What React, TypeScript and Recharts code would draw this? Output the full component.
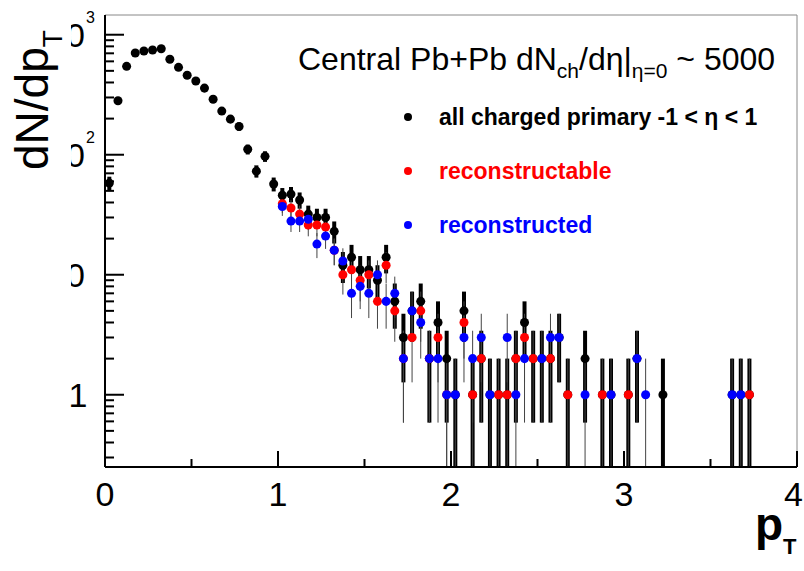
import React from "react";
import { ScatterChart, Scatter, XAxis, YAxis, ErrorBar, Legend, ReferenceArea } from "recharts";

// p_T bin centres (bins of 0.05) and counts per bin
const allPt = [
  0.025, 0.075, 0.125, 0.175, 0.225, 0.275, 0.325, 0.375, 0.425, 0.475,
  0.525, 0.575, 0.625, 0.675, 0.725, 0.775, 0.825, 0.875, 0.925, 0.975,
  1.025, 1.075, 1.125, 1.175, 1.225, 1.275, 1.325, 1.375, 1.425, 1.475,
  1.525, 1.575, 1.625, 1.675, 1.725, 1.775, 1.825, 1.875, 1.925, 1.975,
  2.025, 2.075, 2.125, 2.175, 2.225, 2.275, 2.325, 2.375, 2.425, 2.475,
  2.525, 2.575, 2.625, 2.675, 2.775, 2.875, 2.925, 3.025, 3.075, 3.225,
  3.625, 3.675, 3.725,
];
const allN = [
  58, 282, 545, 704, 731, 746, 764, 624, 535, 459,
  411, 359, 290, 231, 198, 172, 111, 73, 97, 57,
  46, 47, 42, 32, 30, 30, 23, 12, 14, 11,
  11, 9, 14, 6, 3, 5, 6, 2, 4, 2,
  1, 5, 1, 2, 1, 1, 1, 2, 4, 2,
  2, 2, 3, 1, 2, 1, 1, 1, 2, 1,
  1, 1, 1,
];

const recoablePt = [
  1.025, 1.075, 1.125, 1.175, 1.225, 1.275, 1.325, 1.375, 1.425, 1.475,
  1.525, 1.575, 1.625, 1.675, 1.725, 1.775, 1.825, 1.875, 1.925, 1.975,
  2.075, 2.125, 2.175, 2.275, 2.325, 2.375, 2.425, 2.475, 2.575, 2.675,
  2.875, 3.025, 3.725,
];
const recoableN = [
  39, 36, 32, 26, 26, 25, 16, 10, 11, 9,
  10, 6, 12, 5, 2, 3, 5, 2, 3, 1,
  4, 1, 2, 1, 1, 2, 3, 2, 2, 1,
  1, 1, 1,
];

const recoPt = [
  1.025, 1.075, 1.125, 1.175, 1.225, 1.275, 1.325, 1.375, 1.425, 1.475,
  1.525, 1.575, 1.625, 1.675, 1.725, 1.775, 1.825, 1.875, 1.925, 1.975,
  2.025, 2.075, 2.125, 2.175, 2.225, 2.325, 2.375, 2.425, 2.525, 2.575,
  2.625, 2.775, 2.925, 3.075, 3.125, 3.625, 3.675,
];
const recoN = [
  37, 28, 28, 29, 18, 21, 16, 13, 7, 8,
  7, 10, 6, 7, 2, 5, 4, 2, 2, 1,
  1, 3, 2, 3, 1, 3, 1, 2, 2, 3,
  3, 1, 1, 2, 1, 1, 1,
];

const X_TICKS = [0, 0.5, 1, 1.5, 2, 2.5, 3, 3.5, 4];
const Y_TICKS = [
  0.3, 0.4, 0.5, 0.6, 0.7, 0.8, 0.9,
  1, 2, 3, 4, 5, 6, 7, 8, 9,
  10, 20, 30, 40, 50, 60, 70, 80, 90,
  100, 200, 300, 400, 500, 600, 700, 800, 900,
  1000,
];
const Y_DECADES = [1, 10, 100, 1000];
const Y_EXP: Record<number, string> = { 100: "2", 1000: "3" };

const Y_MIN = 0.25;
const Y_MAX = 1460;
const FONT = '"Liberation Sans", Arial, Helvetica, sans-serif';

// poisson errors, lower end stopped at the bottom of the frame
const rows = (pt: number[], n: number[]) =>
  pt.map((x, i) => {
    const e = Math.sqrt(n[i]);
    return { x, y: n[i], err: [Math.min(e, n[i] - Y_MIN), e] };
  });

const allData = rows(allPt, allN);
const recoableData = rows(recoablePt, recoableN);
const recoData = rows(recoPt, recoN);

function YTick(props: any) {
  const { x, y, payload } = props;
  const v = payload.value;
  const major = Y_DECADES.includes(v);
  const id = `yclip-${String(v).replace(".", "_")}`;
  return (
    <g>
      <line x1={x} x2={x + (major ? 19 : 9)} y1={y} y2={y} stroke="#000" strokeWidth={2} />
      {major && v === 1 && (
        <text x={x - 27} y={y + 12} textAnchor="middle" fontSize={34} fontFamily={FONT} fill="#000">
          1
        </text>
      )}
      {major && v !== 1 && (
        <g>
          <clipPath id={id}>
            <rect x={x - 34} y={y - 40} width={34} height={80} />
          </clipPath>
          <text x={x - 20} y={y + 12} textAnchor="end" fontSize={34} fontFamily={FONT} fill="#000" clipPath={`url(#${id})`}>
            10
          </text>
          {Y_EXP[v] && (
            <text x={x - 19} y={y - 12} fontSize={16} fontFamily={FONT} fill="#000">
              {Y_EXP[v]}
            </text>
          )}
        </g>
      )}
    </g>
  );
}

function XTick(props: any) {
  const { x, y, payload } = props;
  const v = payload.value;
  const major = Number.isInteger(v);
  const last = v === X_TICKS[X_TICKS.length - 1];
  return (
    <g>
      <line x1={x} x2={x} y1={y} y2={y - (major ? 16 : 8)} stroke="#000" strokeWidth={2} />
      {major && (
        <text
          x={last ? x + 6 : x}
          y={y + 39}
          textAnchor={last ? "end" : "middle"}
          fontSize={34}
          fontFamily={FONT}
          fill="#000"
        >
          {v}
        </text>
      )}
    </g>
  );
}

function LegendBox(props: any) {
  const items = props.payload ?? [];
  return (
    <svg width={804} height={250} style={{ fontFamily: FONT, overflow: "visible" }}>
      <text x={298} y={70} fontSize={32} fill="#000">
        Central Pb+Pb dN
        <tspan fontSize={21} dy={8}>ch</tspan>
        <tspan fontSize={32} dy={-8}>/dη|</tspan>
        <tspan fontSize={21} dy={8}>η=0</tspan>
        <tspan fontSize={32} dy={-8}>{" ~ 5000"}</tspan>
      </text>
      {items.map((p: any, i: number) => (
        <g key={p.value}>
          <circle cx={408} cy={117 + i * 54} r={4} fill={p.color} />
          <text x={439} y={125 + i * 54} fontSize={23} fontWeight="bold" fill={p.color}>
            {p.value}
          </text>
        </g>
      ))}
    </svg>
  );
}

export default function App() {
  return (
    <div style={{ position: "absolute", left: 0, top: 0, fontFamily: FONT }}>
      <ScatterChart width={804} height={571} margin={{ top: 15, right: 7, bottom: 0, left: 0 }}>
        <ReferenceArea x1={0} x2={4} y1={Y_MIN} y2={Y_MAX} fill="none" stroke="#888" strokeWidth={1} />
        <XAxis
          type="number"
          dataKey="x"
          domain={[0, 4]}
          ticks={X_TICKS}
          interval={0}
          height={104}
          tickSize={0}
          tickMargin={0}
          tickLine={false}
          axisLine={{ stroke: "#000", strokeWidth: 2 }}
          tick={<XTick />}
          label={{
            content: () => (
              <text x={755} y={540} fontSize={46} fontWeight="bold" fontFamily={FONT} fill="#000">
                p<tspan fontSize={22} dy={14}>T</tspan>
              </text>
            ),
          }}
        />
        <YAxis
          type="number"
          dataKey="y"
          scale="log"
          domain={[Y_MIN, Y_MAX]}
          allowDataOverflow
          ticks={Y_TICKS}
          interval={0}
          width={105}
          tickSize={0}
          tickMargin={0}
          tickLine={false}
          axisLine={{ stroke: "#000", strokeWidth: 2 }}
          tick={<YTick />}
          label={{
            content: () => (
              <text transform="translate(48,170) rotate(-90)" fontSize={46} fontFamily={FONT} fill="#000">
                dN/dp<tspan fontSize={28} dy={14}>T</tspan>
              </text>
            ),
          }}
        />
        <Legend
          layout="horizontal"
          verticalAlign="middle"
          align="center"
          content={<LegendBox />}
          wrapperStyle={{ left: 0, top: 0, width: 804, height: 250, pointerEvents: "none" }}
        />
        <Scatter name="all charged primary -1 < η < 1" data={allData} fill="#000" legendType="circle" isAnimationActive={false}>
          <ErrorBar dataKey="err" direction="y" width={0} stroke="#000" strokeWidth={4} isAnimationActive={false} />
        </Scatter>
        <Scatter name="reconstructable" data={recoableData} fill="#ff0000" legendType="circle" isAnimationActive={false}>
          <ErrorBar dataKey="err" direction="y" width={0} stroke="#444" strokeWidth={1} isAnimationActive={false} />
        </Scatter>
        <Scatter name="reconstructed" data={recoData} fill="#0000ff" legendType="circle" isAnimationActive={false}>
          <ErrorBar dataKey="err" direction="y" width={0} stroke="#444" strokeWidth={1} isAnimationActive={false} />
        </Scatter>
      </ScatterChart>
    </div>
  );
}
